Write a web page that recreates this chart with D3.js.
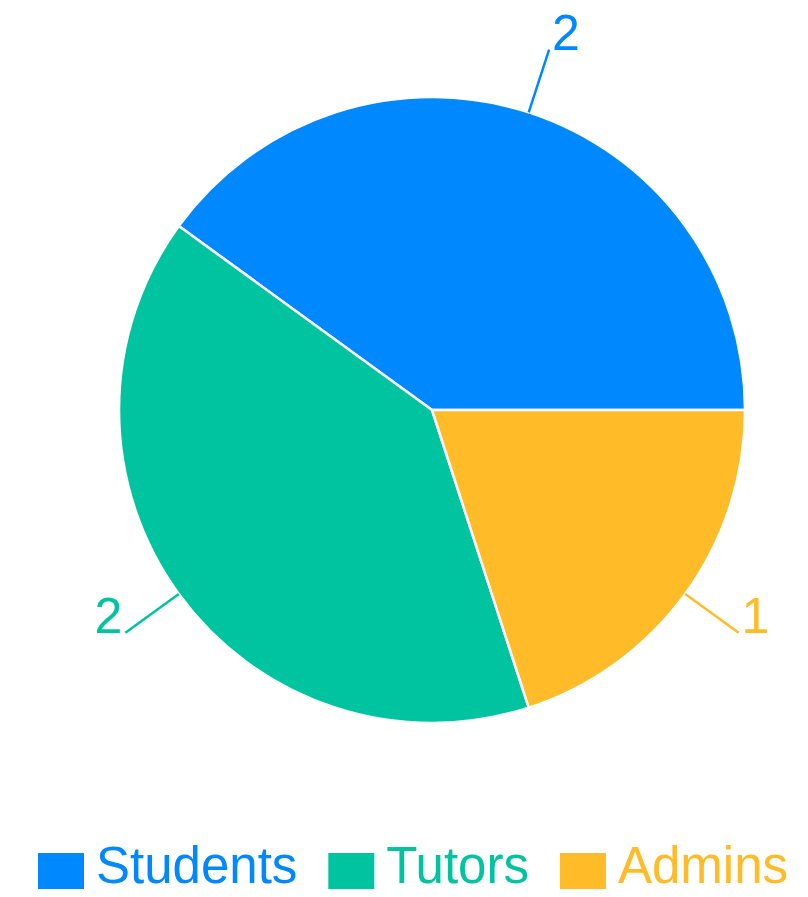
<!DOCTYPE html>
<html>
<head>
<meta charset="utf-8">
<script src="https://cdn.jsdelivr.net/npm/d3@7"></script>
<style>
  body { margin: 0; background: #fff; }
  svg text { font-family: "Liberation Sans", Arial, sans-serif; }
</style>
</head>
<body>
<svg id="chart" width="808" height="897"></svg>
<script>
// data
var categories = ["Students", "Tutors", "Admins"];
var values = [2, 2, 1];
var colors = ["#0088FE", "#00C49F", "#FFBB28"];

var width = 808, height = 897;
var cx = 432, cy = 410, radius = 313;

var svg = d3.select("#chart");
var g = svg.append("g").attr("transform", "translate(" + cx + "," + cy + ")");

var data = categories.map(function (c, i) { return { name: c, value: values[i], color: colors[i] }; });

// start at 3 o'clock, go counterclockwise
var pie = d3.pie()
  .sort(null)
  .value(function (d) { return d.value; })
  .startAngle(Math.PI / 2)
  .endAngle(Math.PI / 2 - 2 * Math.PI);

var arcs = pie(data);
var arc = d3.arc().innerRadius(0).outerRadius(radius);

g.selectAll("path.slice")
  .data(arcs)
  .enter().append("path")
  .attr("class", "slice")
  .attr("d", arc)
  .attr("fill", function (d) { return d.data.color; })
  .attr("stroke", "#fff")
  .attr("stroke-width", 2.5);

// label lines + labels
function pt(a, r) { return [r * Math.sin(a), -r * Math.cos(a)]; }
var lineOuter = radius + 66;

arcs.forEach(function (d) {
  var mid = (d.startAngle + d.endAngle) / 2;
  var p0 = pt(mid, radius), p1 = pt(mid, lineOuter);
  g.append("line")
    .attr("x1", p0[0]).attr("y1", p0[1])
    .attr("x2", p1[0]).attr("y2", p1[1])
    .attr("stroke", d.data.color)
    .attr("stroke-width", 2.5);
  var right = p1[0] > 0;
  g.append("text")
    .attr("x", p1[0] + (right ? 3 : -3))
    .attr("y", p1[1])
    .attr("text-anchor", right ? "start" : "end")
    .attr("font-size", 50)
    .attr("fill", d.data.color)
    .text(d.data.value);
});

// legend
var legend = svg.append("g").attr("class", "legend");
var lx = 38, ly = 853;
data.forEach(function (d) {
  legend.append("rect")
    .attr("x", lx).attr("y", ly)
    .attr("width", 46).attr("height", 36)
    .attr("fill", d.color);
  var t = legend.append("text")
    .attr("x", lx + 58).attr("y", ly + 30)
    .attr("font-size", 51)
    .attr("fill", d.color)
    .text(d.name);
  lx += 58 + t.node().getComputedTextLength() + 31;
});
</script>
</body>
</html>
